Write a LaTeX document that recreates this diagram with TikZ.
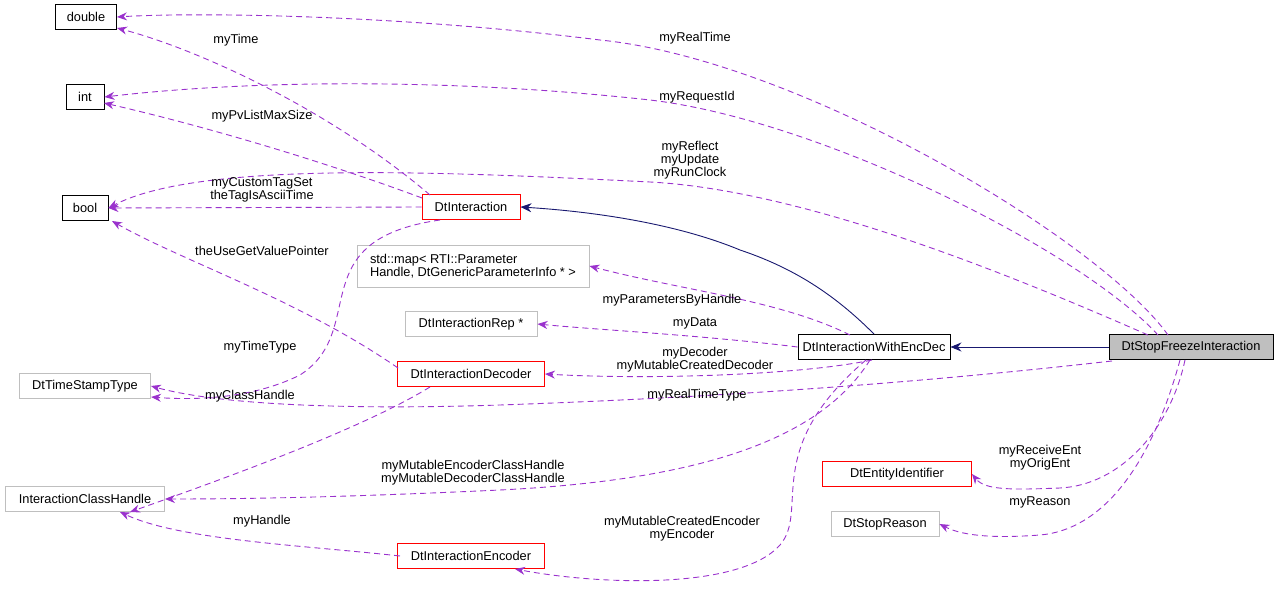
\documentclass[tikz,border=0pt]{standalone}
\usepackage{fontspec}
\setmainfont{Liberation Sans}
\usetikzlibrary{arrows.meta}
\definecolor{purp}{HTML}{9A32CD}
\definecolor{navy}{HTML}{191970}
\definecolor{gr}{HTML}{BFBFBF}
\begin{document}
\begin{tikzpicture}[x=1pt,y=-1pt,font=\fontsize{12.8}{13}\selectfont,
 box/.style={draw,line width=0.9pt,minimum height=25pt,inner sep=2pt,align=center},
 bk/.style={box,draw=black},
 rd/.style={box,draw=red},
 gy/.style={box,draw=gr},
 use/.style={draw=purp,dash pattern=on 6pt off 4pt,line width=0.9pt,-{Stealth[length=10pt,width=8pt]}},
 inh/.style={draw=navy,line width=0.9pt,-{Stealth[length=11pt,width=9pt]}},
 lb/.style={align=center,inner sep=0pt}]
\useasboundingbox (0,0) rectangle (1280,593);
\node[bk,minimum width=61pt] (dbl) at (86,17) {double};
\node[bk,minimum width=38pt] (int) at (85,97) {int};
\node[bk,minimum width=46pt] (bool) at (85,208) {bool};
\node[gy,minimum width=131pt] (ts) at (85,386) {DtTimeStampType};
\node[gy,minimum width=159pt] (ich) at (85,499) {InteractionClassHandle};
\node[rd,minimum width=98pt] (di) at (471,207) {DtInteraction};
\node[gy,minimum width=232pt,minimum height=42pt,align=left] (map) at (473,266) {std::map< RTI::Parameter\\Handle, DtGenericParameterInfo * >};
\node[gy,minimum width=132pt] (rep) at (471,324) {DtInteractionRep *};
\node[rd,minimum width=147pt] (dec) at (471,374) {DtInteractionDecoder};
\node[rd,minimum width=147pt] (enc) at (471,556) {DtInteractionEncoder};
\node[bk,minimum width=152pt] (wed) at (874,347) {DtInteractionWithEncDec};
\node[bk,fill=gr,minimum width=164pt] (sfi) at (1191,347) {DtStopFreezeInteraction};
\node[rd,minimum width=149pt] (eid) at (897,474) {DtEntityIdentifier};
\node[gy,minimum width=108pt] (sr) at (885,524) {DtStopReason};
% inheritance
\draw[inh] (sfi.west) -- (wed.east);
\draw[inh] (wed.north) .. controls (840,300) and (800,270) .. (740,250) .. controls (680,225) and (600,212) .. (di.east);
% sfi uses
\draw[use] (1168,335) .. controls (1100,240) and (800,60) .. (600,40) .. controls (400,15) and (200,12) .. (dbl.east);
\node[lb] at (695,38) {myRealTime};
\draw[use] (1158,335) .. controls (1080,250) and (820,120) .. (650,100) .. controls (450,78) and (250,80) .. (int.east);
\node[lb] at (697,97) {myRequestId};
\draw[use] (1148,335) .. controls (1000,270) and (800,190) .. (650,182) .. controls (450,172) and (200,160) .. (bool.east);
\node[lb] at (690,160) {myReflect\\myUpdate\\myRunClock};
\draw[use] (1112,361) .. controls (900,385) and (700,398) .. (500,405) .. controls (350,410) and (220,405) .. (ts.east);
\node[lb] at (697,395) {myRealTimeType};
\draw[use] (1185,360) .. controls (1170,430) and (1120,485) .. (1060,488) .. controls (1010,490) and (985,490) .. (eid.east);
\node[lb] at (1040,458) {myReceiveEnt\\myOrigEnt};
\draw[use] (1180,360) .. controls (1150,470) and (1100,530) .. (1040,535) .. controls (1000,538) and (965,537) .. (sr.east);
\node[lb] at (1040,502) {myReason};
% wed uses
\draw[use] (850,335) .. controls (780,300) and (680,290) .. (map.east);
\node[lb] at (672,300) {myParametersByHandle};
\draw[use] (wed.west) .. controls (700,335) and (600,330) .. (rep.east);
\node[lb] at (695,323) {myData};
\draw[use] (872,360) .. controls (800,375) and (650,380) .. (dec.east);
\node[lb] at (695,360) {myDecoder\\myMutableCreatedDecoder};
\draw[use] (870,360) .. controls (820,440) and (700,480) .. (500,490) .. controls (350,497) and (250,499) .. (ich.east);
\node[lb] at (473,473) {myMutableEncoderClassHandle\\myMutableDecoderClassHandle};
\draw[use] (866,360) .. controls (760,450) and (810,510) .. (780,545) .. controls (740,590) and (600,585) .. (515,569);
\node[lb] at (682,529) {myMutableCreatedEncoder\\myEncoder};
% di uses
\draw[use] (430,195) .. controls (330,110) and (200,50) .. (117,28);
\node[lb] at (236,40) {myTime};
\draw[use] (422,198) .. controls (320,160) and (200,125) .. (104,103);
\node[lb] at (262,116) {myPvListMaxSize};
\draw[use] (di.west) -- (bool.east);
\node[lb] at (262,190) {myCustomTagSet\\theTagIsAsciiTime};
\draw[use] (440,220) .. controls (300,240) and (370,330) .. (300,375) .. controls (250,400) and (190,400) .. (151,397);
\node[lb] at (260,347) {myTimeType};
% dec uses
\draw[use] (398,368) .. controls (300,300) and (180,260) .. (112,221);
\node[lb] at (262,251) {theUseGetValuePointer};
\draw[use] (430,387) .. controls (360,430) and (220,480) .. (130,512);
\node[lb] at (250,396) {myClassHandle};
% enc uses
\draw[use] (400,556) .. controls (300,545) and (180,540) .. (120,512);
\node[lb] at (262,521) {myHandle};
\end{tikzpicture}
\end{document}
